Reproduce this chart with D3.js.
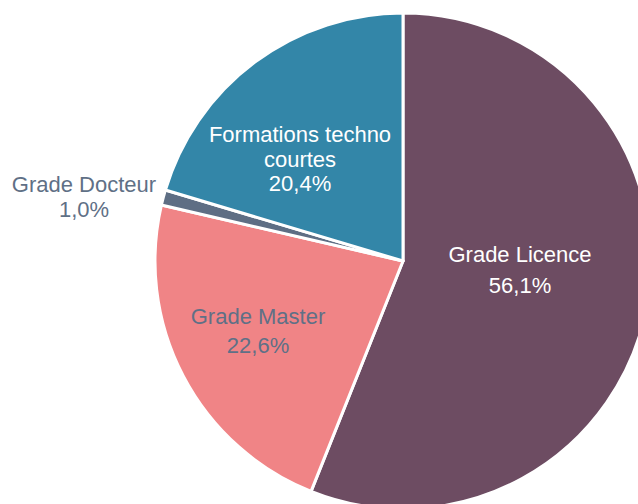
<!DOCTYPE html>
<html>
<head>
<meta charset="utf-8">
<script src="https://cdn.jsdelivr.net/npm/d3@7"></script>
<style>
  body { margin: 0; background: #fff; overflow: hidden; }
  text { font-family: "Liberation Sans", Arial, sans-serif; }
</style>
</head>
<body>
<script>
// Data
var categories = ["Grade Licence", "Grade Master", "Grade Docteur", "Formations techno courtes"];
var values = [56.1, 22.6, 1.0, 20.4];
var valueLabels = ["56,1%", "22,6%", "1,0%", "20,4%"];

// Label layout: lines of the category name, offset from pie centre, line spacing
var labelLines = [["Grade Licence"], ["Grade Master"], ["Grade Docteur"], ["Formations techno", "courtes"]];
var labelOffsets = [[117, 1], [-145, 63], [-319, -69], [-103, -119]];
var labelSpacing = [31, 29, 25, 24.5];

var colors = ["#6d4c62", "#f08486", "#5e6e84", "#3386a8"];
var textColors = ["#ffffff", "#5f7086", "#5f7086", "#ffffff"];

var width = 638, height = 504;
var cx = 403, cy = 261, radius = 248;

var svg = d3.select("body").append("svg")
  .attr("width", width)
  .attr("height", height);

var g = svg.append("g")
  .attr("transform", "translate(" + cx + "," + cy + ")");

var pie = d3.pie().sort(null).value(function (d) { return d; });
var arc = d3.arc().innerRadius(0).outerRadius(radius);

var arcs = pie(values);

// Slices
g.selectAll(".slice")
  .data(arcs)
  .enter().append("path")
  .attr("class", "slice")
  .attr("d", arc)
  .style("fill", function (d, i) { return colors[i]; })
  .style("stroke", "#fff")
  .style("stroke-width", 3)
  .style("stroke-linejoin", "round");

// Labels
var labels = g.selectAll(".label")
  .data(arcs)
  .enter().append("text")
  .attr("class", "label")
  .attr("text-anchor", "middle")
  .style("font-size", "22px")
  .style("fill", function (d, i) { return textColors[i]; })
  .attr("transform", function (d, i) {
    return "translate(" + labelOffsets[i][0] + "," + labelOffsets[i][1] + ")";
  });

labels.each(function (d, i) {
  var t = d3.select(this);
  var lines = labelLines[i].concat([valueLabels[i]]);
  lines.forEach(function (s, k) {
    t.append("tspan")
      .attr("x", 0)
      .attr("y", k * labelSpacing[i])
      .text(s);
  });
});
</script>
</body>
</html>
